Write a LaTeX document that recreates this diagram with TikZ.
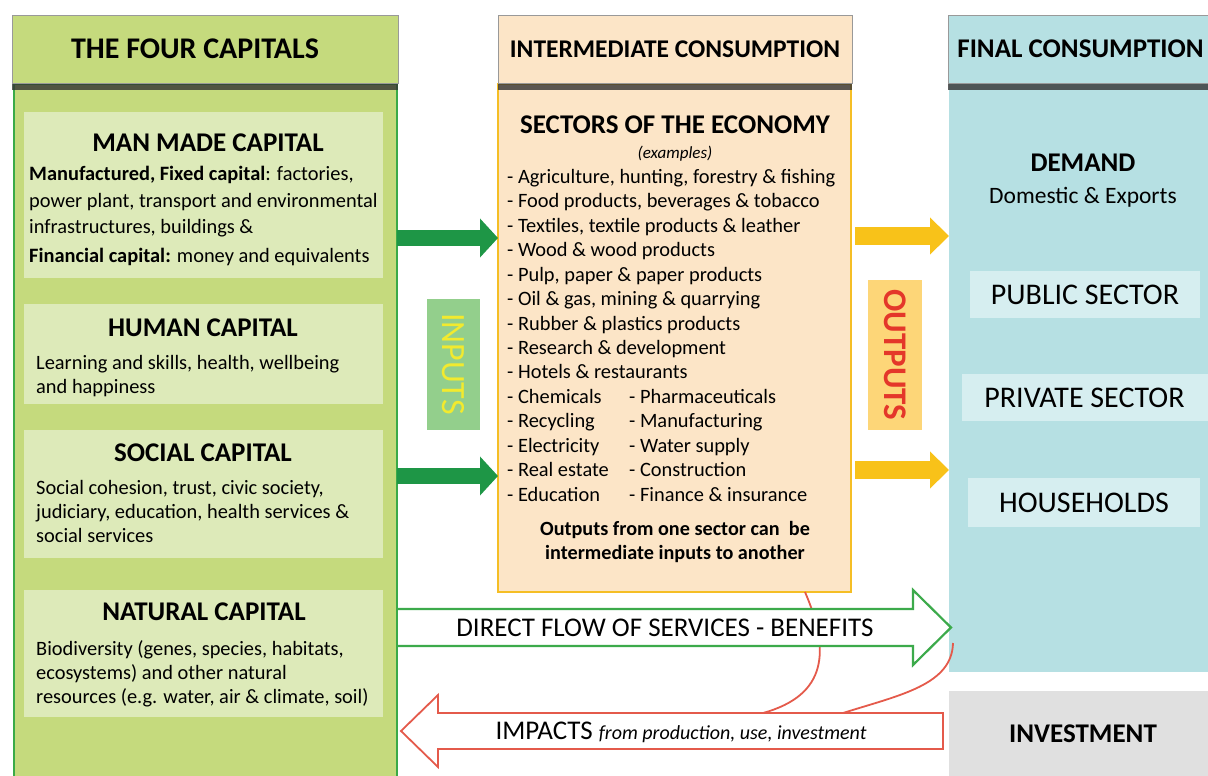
\documentclass[tikz,border=0pt]{standalone}
\usepackage{fontspec}
\setmainfont{Carlito}
\usetikzlibrary{positioning,arrows.meta,shadows}

\definecolor{capfill}{HTML}{C5DA7D}
\definecolor{capin}{HTML}{DDEAB9}
\definecolor{capline}{HTML}{3AAA48}
\definecolor{sectfill}{HTML}{FCE5C7}
\definecolor{sectline}{HTML}{F5BE25}
\definecolor{finfill}{HTML}{B6E0E3}
\definecolor{finin}{HTML}{D6EEF0}
\definecolor{invgray}{HTML}{E0E0E0}
\definecolor{arrgreen}{HTML}{1E9646}
\definecolor{arryellow}{HTML}{F8C219}
\definecolor{inbox}{HTML}{93CF8C}
\definecolor{intext}{HTML}{F2EA2E}
\definecolor{outbox}{HTML}{FDD678}
\definecolor{outtext}{HTML}{E4372A}
\definecolor{flowgreen}{HTML}{3CAA4B}
\definecolor{impred}{HTML}{E45A4B}

\begin{document}
\begin{tikzpicture}[x=1pt,y=-1pt,
  box/.style={rectangle,inner sep=0pt,outer sep=0pt},
  head/.style={box,draw=black!40,line width=.6pt,minimum height=68pt,anchor=north west,
    font=\fontsize{26}{28}\selectfont\bfseries,
    drop shadow={shadow xshift=0pt,shadow yshift=-7pt,fill=black!80,opacity=.8}},
  capbox/.style={box,fill=capin,minimum width=359pt,anchor=north west},
  captitle/.style={inner sep=0pt,font=\fontsize{27}{30}\selectfont\bfseries},
  captext/.style={inner sep=0pt,anchor=north west,align=left,font=\fontsize{20.4}{24}\selectfont},
  finbox/.style={box,fill=finin,font=\fontsize{30}{32}\selectfont},
  inarrow/.style={arrgreen,line width=16pt,-{Triangle[length=18pt,width=38pt]}},
  outarrow/.style={arryellow,line width=18pt,shorten <=4pt,-{Triangle[length=19pt,width=36pt]}},
  impline/.style={impred,line width=1.8pt},
]
\path[use as bounding box] (0,0) rectangle (1208,776);
\clip (0,0) rectangle (1208,776);

% column bodies
\node[box,fill=capfill,draw=capline,line width=2.5pt,minimum width=383pt,minimum height=720pt,anchor=north west] (capbody) at (14,84) {};
\node[box,fill=sectfill,draw=sectline,line width=2pt,minimum width=353pt,minimum height=508pt,anchor=north west] (sectbody) at (498,84) {};
\node[box,fill=finfill,minimum width=270pt,minimum height=588pt,anchor=north west] (finbody) at (949,84) {};
\node[box,fill=invgray,minimum width=270pt,minimum height=86pt,anchor=north west,font=\fontsize{27}{30}\selectfont\bfseries] (invest) at (949,691) {\hspace*{-2pt}INVESTMENT};

% headers
\node[head,fill=capfill,minimum width=386pt,font=\fontsize{30}{32}\selectfont\bfseries] (caphead) at (12,15) {THE FOUR CAPITALS\hspace*{20pt}};
\node[head,fill=sectfill,minimum width=354pt,font=\fontsize{25.5}{28}\selectfont\bfseries] (secthead) at (498,15) {INTERMEDIATE CONSUMPTION};
\node[head,fill=finfill,minimum width=275pt,font=\fontsize{27}{28}\selectfont\bfseries] (finhead) at (948,15) {FINAL CONSUMPTION\hspace*{10pt}};

% the four capitals
\node[capbox,minimum height=166pt] (mmbox) at (24,112) {};
\node[captitle] (mmtitle) at (208,143) {MAN MADE CAPITAL};
\node[captext,font=\fontsize{20.4}{26.5}\selectfont] (mmtext) at (29,166) {\textbf{Manufactured, Fixed capital}: factories,\\
  power plant, transport and environmental\\
  infrastructures, buildings \&\\[2pt]
  \textbf{Financial capital:} money and equivalents};

\node[capbox,minimum height=100pt] (humbox) at (24,304) {};
\node[captitle] (humtitle) at (203,328) {HUMAN CAPITAL};
\node[captext] (humtext) at (36,355) {Learning and skills, health, wellbeing\\and happiness};

\node[capbox,minimum height=128pt] (socbox) at (24,430) {};
\node[captitle] (soctitle) at (203,453) {SOCIAL CAPITAL};
\node[captext] (soctext) at (36,480) {Social cohesion, trust, civic society,\\
  judiciary, education, health services \&\\social services};

\node[capbox,minimum height=127pt] (natbox) at (24,590) {};
\node[captitle] (nattitle) at (204,612) {NATURAL CAPITAL};
\node[captext] (nattext) at (36,640) {Biodiversity (genes, species, habitats,\\
  ecosystems) and other natural\\resources (e.g. water, air \& climate, soil)};

% sectors of the economy
\node[inner sep=0pt,font=\fontsize{27}{30}\selectfont\bfseries] (secttitle) at (675,125) {SECTORS OF THE ECONOMY};
\node[inner sep=0pt,font=\fontsize{17}{20}\selectfont\itshape] (sectnote) at (675,154) {(examples)};
\node[captext,font=\fontsize{20.4}{24.45}\selectfont] (sectlist) at (507,169) {- Agriculture, hunting, forestry \& fishing\\
  - Food products, beverages \& tobacco\\
  - Textiles, textile products \& leather\\
  - Wood \& wood products\\
  - Pulp, paper \& paper products\\
  - Oil \& gas, mining \& quarrying\\
  - Rubber \& plastics products\\
  - Research \& development\\
  - Hotels \& restaurants\\
  \makebox[122pt][l]{- Chemicals}- Pharmaceuticals\\
  \makebox[122pt][l]{- Recycling}- Manufacturing\\
  \makebox[122pt][l]{- Electricity}- Water supply\\
  \makebox[122pt][l]{- Real estate}- Construction\\
  \makebox[122pt][l]{- Education}- Finance \& insurance};
\node[inner sep=0pt,align=center,font=\fontsize{20.2}{24}\selectfont\bfseries] (sectfoot) at (675,542) {Outputs from one sector can\ \ be\\intermediate inputs to another};

% final consumption
\node[inner sep=0pt,font=\fontsize{27}{30}\selectfont\bfseries] (demand) at (1083,163) {DEMAND};
\node[inner sep=0pt,font=\fontsize{23.5}{26}\selectfont] (demandtext) at (1083,197) {Domestic \& Exports};
\node[finbox,minimum width=230pt,minimum height=47pt] (public) at (1085,294.5) {PUBLIC SECTOR};
\node[finbox,minimum width=253pt,minimum height=47pt,anchor=west] (private) at (962,397.5) {\hspace*{-8pt}PRIVATE SECTOR};
\node[finbox,minimum width=232pt,minimum height=49pt] (households) at (1084,502.5) {HOUSEHOLDS};

% inputs and outputs
\coordinate (in1) at (0,238);
\coordinate (in2) at (0,476);
\draw[inarrow] (capbody.east |- in1) -- (sectbody.west |- in1);
\draw[inarrow] (capbody.east |- in2) -- (sectbody.west |- in2);
\coordinate (out1) at (0,236);
\coordinate (out2) at (0,470);
\draw[outarrow] (sectbody.east |- out1) -- (finbody.west |- out1);
\draw[outarrow] (sectbody.east |- out2) -- (finbody.west |- out2);

\node[box,fill=inbox,rotate=-90,minimum width=131pt,minimum height=53pt,text=intext,font=\fontsize{34}{36}\selectfont] (inputs) at (453,364) {INPUTS};
\node[box,fill=outbox,rotate=-90,minimum width=150pt,minimum height=54pt,text=outtext,font=\fontsize{33}{36}\selectfont\bfseries] (outputs) at (895,355) {OUTPUTS};

% impacts lines
\coordinate (imp1) at (805,592);
\coordinate (imp1end) at (763,713);
\coordinate (imp2) at (953,643);
\coordinate (imp2end) at (843,713);
\draw[impline] (imp1) .. controls (830,650) and (828,695) .. (imp1end);
\draw[impline] (imp2) .. controls (952,685) and (900,695) .. (imp2end);

% direct flow and impacts block arrows
\draw[flowgreen,fill=white,line width=2.2pt,line join=miter]
  (398,609) -- (913,609) -- (913,590) -- (951,627.5) -- (913,665) -- (913,646) -- (398,646);
\node[inner sep=0pt,font=\fontsize{27}{30}\selectfont] (flowtext) at (665,628) {DIRECT FLOW OF SERVICES - BENEFITS};
\draw[impred,fill=white,line width=1.8pt,line join=miter]
  (943,713) -- (438,713) -- (438,695) -- (401,731) -- (438,767) -- (438,749) -- (943,749) -- cycle;
\node[inner sep=0pt,font=\fontsize{27}{30}\selectfont] (imptext) at (681,732) {IMPACTS {\fontsize{20}{22}\selectfont\itshape from production, use, investment}};
\end{tikzpicture}
\end{document}
